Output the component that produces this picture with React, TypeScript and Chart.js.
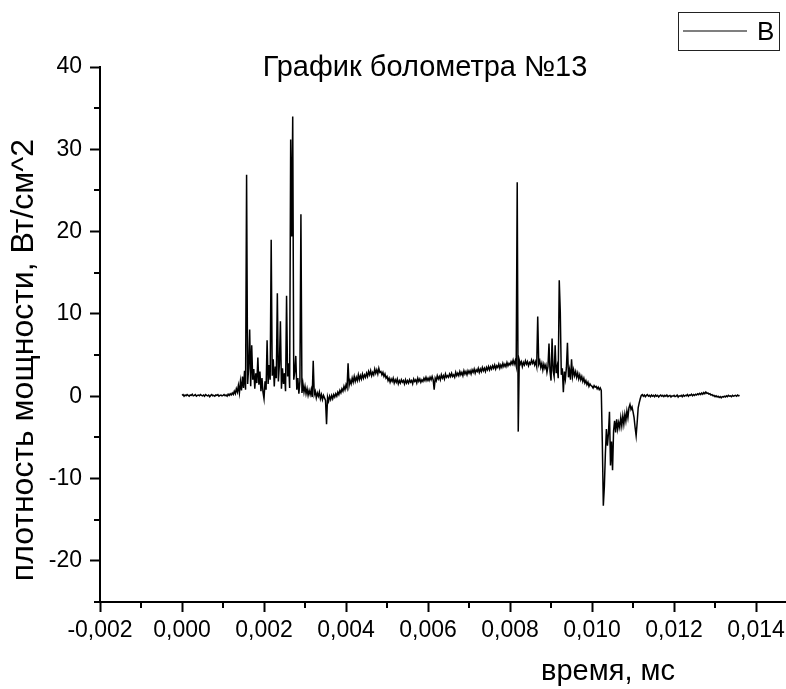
import React, { useEffect, useRef } from "react";
import { Chart, registerables } from "chart.js";

Chart.register(...registerables);

// Sampling grid of the bolometer record (time, ms units as shown on axis)
const SAMPLE_START = 0;
const SAMPLE_STEP = 0.000025;

// Power density values (Вт/см^2), 20 samples per row
const signalValues: number[] = [
  0.1, 0.2, 0.0, 0.15, 0.05, 0.2, 0.1, 0.0, 0.15, 0.1, 0.25, 0.05, 0.1, 0.2, 0.0, 0.1, 0.15, 0.05, 0.2, 0.1,
  0.05, 0.15, 0.0, 0.2, 0.1, 0.05, 0.15, -0.05, 0.1, 0.2, 0.05, 0.1, 0.0, 0.15, 0.1, 0.2, 0.0, 0.1, 0.15, 0.05,
  0.1, 0.2, 0.05, 0.15, 0.0, 0.25, 0.1, 0.3, 0.15, 0.4, 0.2, 0.6, 0.3, 0.9, 0.5, 1.3, 0.4, 1.8, 0.7, 2.4,
  1.0, 3.1, 0.8, 26.9, 1.5, 3.4, 8.1, 1.2, 6.2, 2.0, 3.3, 0.9, 2.8, 1.6, 4.7, 1.4, 3.0, 0.6, 2.2, 0.5,
  -0.3, 1.8, 0.8, 6.8, 1.5, 3.8, 2.0, 19.0, 2.5, 4.5, 1.2, 3.6, 2.2, 12.5, 1.8, 3.9, 9.1, 0.9, 3.4, 1.5,
  2.8, 0.6, 12.2, 2.4, 4.0, 1.0, 31.2, 19.4, 34.0, 2.0, 3.0, 4.9, 0.8, 2.2, 0.3, 1.8, 22.1, 0.4, 1.5, 0.5,
  1.2, 0.3, 0.9, 0.1, 0.7, 0.2, 0.8, -0.1, 4.3, 0.2, 0.6, -0.2, 0.4, 0.0, 0.5, -0.3, 0.2, -0.4, 0.1, -0.2,
  -0.5, -3.4, -0.1, -0.6, 0.0, -0.4, 0.1, -0.3, 0.2, -0.1, 0.3, 0.0, 0.5, 0.2, 0.7, 0.4, 0.9, 0.6, 1.2, 0.8,
  1.4, 1.0, 4.0, 1.3, 1.9, 1.5, 2.2, 1.7, 2.4, 1.8, 2.3, 1.9, 2.6, 2.0, 2.5, 2.1, 2.7, 2.2, 2.6, 2.3,
  2.8, 2.4, 3.0, 2.6, 3.1, 2.5, 2.9, 2.6, 3.3, 2.8, 3.2, 2.7, 3.4, 2.9, 3.0, 2.6, 2.9, 2.4, 2.7, 2.2,
  2.4, 1.9, 2.2, 1.7, 2.1, 1.8, 2.2, 1.6, 2.0, 1.7, 2.1, 1.5, 1.9, 1.6, 2.0, 1.7, 1.9, 1.5, 2.0, 1.6,
  1.9, 1.6, 2.0, 1.7, 1.9, 1.5, 2.1, 1.8, 2.0, 1.6, 2.2, 1.8, 2.1, 1.7, 2.0, 1.8, 2.2, 1.9, 2.3, 1.9,
  2.2, 1.9, 2.3, 2.0, 2.4, 2.0, 0.8, 2.2, 1.9, 2.5, 2.1, 2.4, 2.0, 2.6, 2.2, 2.5, 2.1, 2.7, 2.3, 2.5,
  2.3, 2.7, 2.4, 2.8, 2.4, 2.6, 2.3, 2.9, 2.5, 2.8, 2.5, 3.0, 2.6, 2.9, 2.5, 3.1, 2.7, 3.0, 2.6, 3.1,
  2.8, 3.1, 2.7, 3.2, 2.9, 3.3, 2.8, 3.2, 3.0, 3.4, 2.9, 3.3, 3.0, 3.5, 3.1, 3.4, 3.0, 3.5, 3.2, 3.6,
  3.2, 3.6, 3.3, 3.7, 3.4, 3.8, 3.3, 3.7, 3.5, 3.9, 3.4, 3.8, 3.5, 4.0, 3.6, 3.9, 3.6, 4.1, 3.7, 4.0,
  3.8, 4.2, 3.9, 4.4, 3.9, 4.3, 3.7, 26.0, -4.3, 4.4, 3.9, 4.2, 3.6, 4.1, 3.8, 4.3, 3.9, 4.2, 3.7, 4.1,
  3.9, 4.4, 4.0, 4.3, 3.8, 4.2, 3.6, 9.7, 3.9, 4.3, 3.5, 4.0, 3.2, 3.9, 3.4, 3.8, 2.9, 3.6, 6.4, 3.0,
  1.9, 7.0, 3.1, 2.4, 6.2, 2.8, 3.6, 2.2, 14.1, 10.3, 2.6, 3.4, 0.5, 3.0, 2.1, 3.5, 6.5, 2.3, 3.2, 2.0,
  4.5, 2.4, 3.2, 2.5, 3.0, 2.3, 2.8, 2.1, 2.6, 2.0, 2.4, 1.8, 2.2, 1.6, 1.9, 1.4, 1.7, 1.2, 1.5, 1.3,
  1.2, 1.0, 1.3, 1.1, 1.2, 0.9, 1.1, 0.8, 1.0, 0.7, -5.5, -13.3, -11.0, -7.0, -4.0, -6.0, -4.5, -1.9, -8.4, -5.5,
  -9.0, -4.2, -3.0, -4.4, -2.8, -4.0, -3.2, -3.8, -2.6, -3.6, -2.4, -3.4, -2.2, -3.0, -1.8, -2.6, -1.4, -1.0, -1.6, -1.3,
  -1.9, -2.6, -3.8, -4.8, -3.2, -1.4, -0.8, -0.3, 0.1, 0.2, 0.0, 0.15, -0.05, 0.1, 0.2, 0.0, 0.1, -0.05, 0.15, 0.0,
  0.1, -0.05, 0.15, 0.0, 0.1, -0.1, 0.05, 0.15, 0.0, 0.1, -0.05, 0.1, 0.0, 0.15, -0.05, 0.05, 0.1, -0.1, 0.05, 0.0,
  0.1, -0.05, 0.0, 0.15, -0.1, 0.05, 0.0, 0.1, -0.05, 0.15, 0.0, 0.1, 0.05, 0.2, 0.0, 0.15, 0.1, 0.25, 0.05, 0.2,
  0.1, 0.25, 0.15, 0.3, 0.2, 0.35, 0.2, 0.4, 0.25, 0.45, 0.3, 0.5, 0.35, 0.4, 0.25, 0.3, 0.15, 0.2, 0.05, 0.1,
  -0.05, 0.05, -0.1, 0.0, -0.15, -0.05, -0.2, -0.05, -0.1, 0.0, -0.1, 0.05, -0.05, 0.1, 0.0, 0.05, -0.05, 0.1, 0.0, 0.05,
  0.1, 0.0, 0.15, 0.05, 0.1,
];

// Axis settings / labels
const X_MIN = -0.002;
const X_MAX = 0.01473;
const X_STEP = 0.001;
const Y_MIN = -25;
const Y_MAX = 40;
const Y_STEP = 5;

const SERIES_NAME = "B";
const CHART_TITLE = "График болометра №13";
const X_TITLE = "время, мс";
const Y_TITLE = "плотность мощности, Вт/см^2";

const FONT = "'Liberation Sans', Arial, sans-serif";

const isMajorX = (v: number) => Math.abs(Math.round(v / X_STEP)) % 2 === 0;
const isMajorY = (v: number) => Math.abs(Math.round(v / Y_STEP)) % 2 === 0;

const decorPlugin = {
  id: "decor",
  afterDraw(chart: any) {
    const { ctx } = chart;
    const xs = chart.scales.x;
    const ys = chart.scales.y;
    const area = chart.chartArea;
    ctx.save();
    // minor ticks
    ctx.strokeStyle = "#000";
    ctx.lineWidth = 2;
    ctx.beginPath();
    for (let k = -3; k <= 17; k++) {
      if (k % 2 === 0) continue;
      const v = k * X_STEP;
      if (v < X_MIN - 1e-9 || v > X_MAX + 1e-9) continue;
      const px = Math.round(xs.getPixelForValue(v));
      ctx.moveTo(px, area.bottom);
      ctx.lineTo(px, area.bottom + 6);
    }
    for (let k = -5; k <= 8; k++) {
      if (k % 2 === 0) continue;
      const v = k * Y_STEP;
      if (v < Y_MIN - 1e-9 || v > Y_MAX + 1e-9) continue;
      const py = Math.round(ys.getPixelForValue(v));
      ctx.moveTo(area.left - 6, py);
      ctx.lineTo(area.left, py);
    }
    ctx.stroke();

    // title
    ctx.fillStyle = "#000";
    ctx.font = `29px ${FONT}`;
    ctx.textAlign = "center";
    ctx.textBaseline = "alphabetic";
    ctx.fillText(CHART_TITLE, 425, 76);

    // x title
    ctx.font = `29px ${FONT}`;
    ctx.fillText(X_TITLE, 608, 680);

    // y title
    ctx.save();
    ctx.translate(24, 360);
    ctx.rotate(-Math.PI / 2);
    ctx.font = `32px ${FONT}`;
    ctx.textBaseline = "middle";
    ctx.fillText(Y_TITLE, 0, 0);
    ctx.restore();

    // legend box
    ctx.lineWidth = 1;
    ctx.strokeStyle = "#222";
    ctx.strokeRect(678.5, 12.5, 101, 38);
    ctx.beginPath();
    ctx.strokeStyle = "#555";
    ctx.lineWidth = 1.3;
    ctx.moveTo(683, 31);
    ctx.lineTo(747, 31);
    ctx.stroke();
    ctx.font = `26px ${FONT}`;
    ctx.textAlign = "left";
    ctx.textBaseline = "alphabetic";
    ctx.fillText(SERIES_NAME, 757, 40);
    ctx.restore();
  },
};

export default function App() {
  const canvasRef = useRef<HTMLCanvasElement | null>(null);

  useEffect(() => {
    if (!canvasRef.current) return;
    const points = signalValues.map((v, i) => ({ x: SAMPLE_START + i * SAMPLE_STEP, y: v }));
    const chart = new Chart(canvasRef.current, {
      type: "line",
      data: {
        datasets: [
          {
            label: SERIES_NAME,
            data: points,
            borderColor: "#000",
            borderWidth: 1.5,
            pointRadius: 0,
            tension: 0,
            fill: false,
          },
        ],
      },
      options: {
        responsive: false,
        animation: false,
        layout: { padding: { top: 67, left: 0, right: 0, bottom: 0 } },
        plugins: {
          legend: { display: false },
          title: { display: false },
          tooltip: { enabled: false },
        },
        scales: {
          x: {
            type: "linear",
            min: X_MIN,
            max: X_MAX,
            afterFit: (s: any) => {
              s.height = 87;
              s.paddingLeft = 0;
              s.paddingRight = 0;
            },
            border: { display: true, color: "#000", width: 2 },
            grid: {
              display: true,
              drawOnChartArea: false,
              drawTicks: true,
              tickLength: 10,
              tickWidth: 2,
              tickColor: (c: any) => (c.tick && isMajorX(c.tick.value) ? "#000" : "rgba(0,0,0,0)"),
            },
            ticks: {
              stepSize: X_STEP,
              autoSkip: false,
              includeBounds: false,
              maxRotation: 0,
              padding: 5,
              color: "#000",
              font: { family: FONT, size: 23 },
              callback: (v: any) => {
                const k = Math.round(Number(v) / X_STEP);
                if (k % 2 !== 0) return "";
                return (k * X_STEP).toFixed(3).replace(".", ",");
              },
            },
          },
          y: {
            type: "linear",
            min: Y_MIN,
            max: Y_MAX,
            afterFit: (s: any) => {
              s.width = 100;
              s.paddingTop = 0;
              s.paddingBottom = 0;
            },
            border: { display: true, color: "#000", width: 2 },
            grid: {
              display: true,
              drawOnChartArea: false,
              drawTicks: true,
              tickLength: 10,
              tickWidth: 2,
              tickColor: (c: any) => (c.tick && isMajorY(c.tick.value) ? "#000" : "rgba(0,0,0,0)"),
            },
            ticks: {
              stepSize: Y_STEP,
              autoSkip: false,
              includeBounds: false,
              padding: 8,
              color: "#000",
              font: { family: FONT, size: 23 },
              callback: (v: any) => {
                const k = Math.round(Number(v) / Y_STEP);
                if (k % 2 !== 0) return "";
                return String(k * Y_STEP);
              },
            },
          },
        },
      },
      plugins: [decorPlugin],
    });
    return () => chart.destroy();
  }, []);

  return (
    <div style={{ position: "absolute", left: 0, top: 0, width: 786, height: 689 }}>
      <canvas ref={canvasRef} width={786} height={689} style={{ display: "block" }} />
    </div>
  );
}
